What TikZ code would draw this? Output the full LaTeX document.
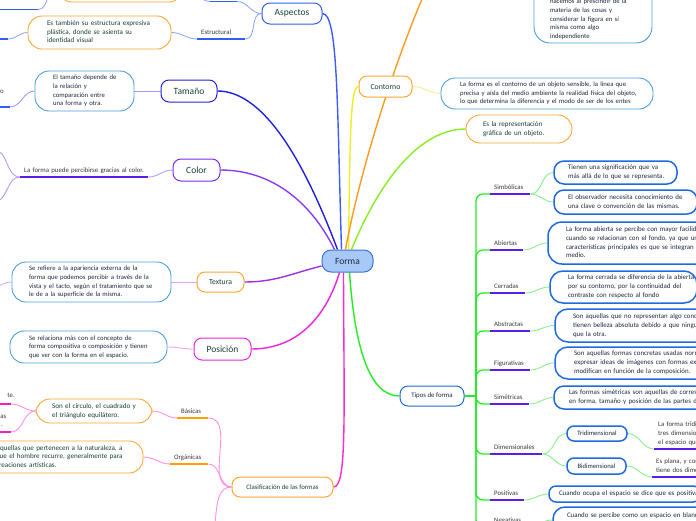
\documentclass[tikz,border=0pt]{standalone}
\usepackage{fontspec}
\setmainfont{Carlito}
\definecolor{tgreen}{HTML}{1B4332}
\definecolor{navy}{HTML}{1E2A40}
\definecolor{lgrey}{HTML}{383838}
\definecolor{orng}{HTML}{FFA630}
\definecolor{skyb}{HTML}{4A9EDB}
\definecolor{tblue}{HTML}{1F6AE0}
\definecolor{fblue}{HTML}{A8C9F7}
\definecolor{fbord}{HTML}{3D72D9}
\definecolor{aspb}{HTML}{2F5FF0}
\definecolor{tamb}{HTML}{2424D8}
\definecolor{colb}{HTML}{7A2EF0}
\definecolor{posb}{HTML}{E826E0}
\definecolor{ulp}{HTML}{5A1FE6}
\definecolor{ulb}{HTML}{2F5FF0}
\definecolor{ulm}{HTML}{F020C8}
\definecolor{ulo}{HTML}{FFA000}
\definecolor{casp}{HTML}{3D5CFF}
\definecolor{sasp}{HTML}{93A8FF}
\definecolor{ctam}{HTML}{2020E0}
\definecolor{stam}{HTML}{A59BF5}
\definecolor{ccol}{HTML}{8A3CF2}
\definecolor{scol}{HTML}{B89AF7}
\definecolor{ctex}{HTML}{A030E0}
\definecolor{stex}{HTML}{E3A6F2}
\definecolor{cpos}{HTML}{EE22DD}
\definecolor{spos}{HTML}{F2A2EE}
\definecolor{ccla}{HTML}{FF2AD4}
\definecolor{scla}{HTML}{FF90E0}
\definecolor{ctip}{HTML}{22EE22}
\definecolor{stip}{HTML}{8AF08A}
\definecolor{crep}{HTML}{88EE22}
\definecolor{ccon}{HTML}{EEEE22}
\definecolor{scon}{HTML}{F5F08A}
\definecolor{ctop}{HTML}{FF9A1F}
\pgfdeclarelayer{bg}
\pgfsetlayers{bg,main}
\newcommand{\tnode}[7]{%
 \pgfmathsetmacro\mywd{#5-#3}\pgfmathsetmacro\myht{#6-#4}%
 \node[title,#1,minimum width=\mywd pt,minimum height=\myht pt] (#2) at ({(#3+#5)/2},{(#4+#6)/2}) {#7};}
\newcommand{\bnode}[8]{%
 \pgfmathsetmacro\mywd{#5-#3}\pgfmathsetmacro\myht{#6-#4}\pgfmathsetmacro\mytw{#5-#3-2*#7}%
 \node[tbox,#1,minimum width=\mywd pt,minimum height=\myht pt,text width=\mytw pt,inner xsep=#7pt] (#2) at ({(#3+#5)/2},{(#4+#6)/2}) {\begin{tabular}{@{}l@{}}#8\end{tabular}};}
\newcommand{\ulab}[7]{%
 \pgfmathsetmacro\mytw{#4-#3-8}%
 \node[lbl,#1,text width=\mytw pt] (#2) at (#3,#5) {\begin{tabular}{@{}l@{}}#7\end{tabular}};
 \draw[#6,line width=1.6pt] (#2.south west) -- (#2.south east);}
\begin{document}
\begin{tikzpicture}[x=1pt,y=-1pt,
 title/.style={draw, rounded corners=8pt, line width=1pt, fill=white, text=tgreen, font=\fontsize{9.5}{11}\selectfont, inner sep=0pt},
 tbox/.style={draw=skyb, rounded corners=14pt, line width=0.9pt, fill=white, text=navy, font=\fontsize{6.7}{8.7}\selectfont, inner ysep=0pt, align=left},
 obox/.style={draw=orng, text=tgreen, font=\fontsize{7.1}{8.6}\selectfont},
 tbx/.style={draw=tblue, line width=1.5pt, rounded corners=10pt, font=\fontsize{6.9}{8.8}\selectfont},
 lbl/.style={text=lgrey, font=\fontsize{6.8}{8}\selectfont, inner ysep=2pt, inner xsep=4pt, anchor=south west, align=left},
 con/.style={line width=0.9pt},
 mainc/.style={line width=1.4pt}]
\useasboundingbox (0,0) rectangle (696,520);
% ---- central and title nodes
\tnode{draw=fbord, fill=fblue, text=navy, rounded corners=9pt}{F}{322}{250}{373}{272}{Forma}
\tnode{draw=aspb}{asp}{262}{3}{322}{24}{Aspectos}
\tnode{draw=tamb}{tam}{161}{80}{217}{102}{Tamaño}
\tnode{draw=colb}{col}{173}{159}{220}{181}{Color}
\tnode{draw=orng, font=\fontsize{7.7}{9}\selectfont}{tex}{197}{272}{244}{292}{Textura}
\tnode{draw=posb}{pos}{194}{338}{251}{360}{Posición}
\tnode{draw=orng, font=\fontsize{6.8}{8}\selectfont}{cla}{232}{477}{333}{497}{Clasificación de las formas}
\tnode{draw=orng, font=\fontsize{7.8}{9}\selectfont}{cont}{359}{76}{412}{97}{Contorno}
\tnode{draw=tblue, text=navy, font=\fontsize{6.8}{8}\selectfont}{tip}{400}{386}{464}{406}{Tipos de forma}
\tnode{draw=tblue, line width=1.5pt, text=navy, font=\fontsize{6.6}{8}\selectfont, rounded corners=7pt}{tri}{567}{426}{627}{441}{Tridimensional}
\tnode{draw=tblue, line width=1.5pt, text=navy, font=\fontsize{6.6}{8}\selectfont, rounded corners=7pt}{bi}{567}{458}{626}{474}{Bidimensional}
% ---- text boxes
\bnode{obox}{ob1}{58}{-30}{183}{2}{10}{}
\bnode{obox}{estB}{28}{16}{171}{49}{19}{Es también su estructura expresiva\\plástica, donde se asienta su\\identidad visual}
\bnode{}{tamB}{35}{71}{134}{111}{18}{El tamaño depende de\\la relación y\\comparación entre\\una forma y otra.}
\bnode{}{texB}{12}{262}{171}{302}{17}{Se refiere a la apariencia externa de la\\forma que podemos percibir a través de la\\vista y el tacto, según el tratamiento que se\\le de a la superficie de la misma.}
\bnode{}{posB}{10}{331}{167}{363}{19}{Se relaciona más con el concepto de\\forma compositiva o composición y tienen\\que ver con la forma en el espacio.}
\bnode{obox}{basB}{36}{399}{152}{423}{16}{Son el círculo, el cuadrado y\\el triángulo equilátero.}
\bnode{obox}{orgB}{-30}{441}{143}{473}{26}{Aquellas que pertenecen a la naturaleza, a\\que el hombre recurre, generalmente para\\creaciones artísticas.}
\bnode{rounded corners=16pt}{trB}{534}{-30}{652}{43}{16}{\mbox{}\\\mbox{}\\\mbox{}\\hacemos al prescindir de la\\materia de las cosas y\\considerar la figura en sí\\misma como algo\\independiente}
\bnode{}{contB}{441}{78}{653}{109}{19}{La forma es el contorno de un objeto sensible, la línea que\\precisa y aísla del medio ambiente la realidad física del objeto,\\lo que determina la diferencia y el modo de ser de los entes}
\bnode{obox}{repB}{466}{115}{572}{143}{17}{Es la representación\\gráfica de un objeto.}
\bnode{tbx}{sb1}{554}{161}{677}{184}{14}{Tienen una significación que va\\más allá de lo que se representa.}
\bnode{tbx}{sb2}{554}{190}{697}{214}{14}{El observador necesita conocimiento de\\una clave o convención de las mismas.}
\bnode{tbx, rounded corners=14pt}{abB}{548}{222}{750}{264}{18}{La forma abierta se percibe con mayor facilidad\\cuando se relacionan con el fondo, ya que una de sus\\características principales es que se integran al\\medio.}
\bnode{tbx, rounded corners=13pt}{ceB}{550}{271}{697}{303}{18}{La forma cerrada se diferencia de la abierta\\por su contorno, por la continuidad del\\contraste con respecto al fondo}
\bnode{tbx, rounded corners=13pt}{asB}{555}{309}{760}{342}{18}{Son aquellas que no representan algo concreto y\\tienen belleza absoluta debido a que ninguna es más\\que la otra.}
\bnode{tbx, rounded corners=13pt}{fiB}{555}{347}{760}{379}{19}{Son aquellas formas concretas usadas normalmente para\\expresar ideas de imágenes con formas exactas que se\\modifican en función de la composición.}
\bnode{tbx}{siB}{554}{386}{760}{409}{15}{Las formas simétricas son aquellas de correspondencia\\en forma, tamaño y posición de las partes de un todo.}
\bnode{tbx, rounded corners=7pt}{poB}{549}{486}{700}{502}{10}{Cuando ocupa el espacio se dice que es positiva.}
\bnode{tbx, rounded corners=12pt}{neB}{553}{507}{760}{533}{14}{Cuando se percibe como un espacio en blanco\\se dice que es negativa.}
% ---- underlined labels
\ulab{}{est}{197}{245}{39}{ulb}{Estructural}
\ulab{}{colL}{20}{148}{177}{ulp}{La forma puede percibirse gracias al color.}
\ulab{}{bas}{177}{208}{418}{ulo}{Básicas}
\ulab{}{org}{170}{208}{464}{ulo}{Orgánicas}
\ulab{}{sim}{490}{530}{194}{ulp}{Simbólicas}
\ulab{}{abi}{490}{523}{250}{ulp}{Abiertas}
\ulab{}{cer}{490}{525}{293}{ulp}{Cerradas}
\ulab{}{abs}{490}{530}{331}{ulp}{Abstractas}
\ulab{}{fig}{490}{530}{370}{ulp}{Figurativas}
\ulab{}{sime}{490}{529}{404}{ulp}{Simétricas}
\ulab{}{dim}{490}{542}{454}{ulp}{Dimensionales}
\ulab{}{posi}{490}{524}{500}{ulp}{Positivas}
\ulab{}{neg}{490}{527}{527}{ulp}{Negativas}
\ulab{font=\fontsize{6.8}{9}\selectfont}{triL}{654}{780}{449}{ulp}{La forma tridimensional es aquella que\\tres dimensiones: alto, ancho y\\el espacio que ocupa.}
\ulab{font=\fontsize{6.8}{9}\selectfont}{biL}{652}{780}{477}{ulp}{Es plana, y con dos medidas;\\tiene dos dimensiones.}
% ---- partial items at the edges
\coordinate (asp1w) at (210,1.5); \coordinate (asp1e) at (237,1.5);
\draw[ulb, line width=1.6pt] (asp1w) -- (asp1e);
\coordinate (t2w) at (-40,9.5); \coordinate (t2e) at (38,9.5);
\draw[ulb, line width=1.6pt] (t2w) -- (t2e);
\coordinate (e2w) at (-40,39); \coordinate (e2e) at (8,39);
\draw[ulb, line width=1.6pt] (e2w) -- (e2e);
\coordinate (tmw) at (-40,107); \coordinate (tme) at (10,107);
\draw[ulb, line width=1.6pt] (tmw) -- (tme);
\node[text=lgrey, font=\fontsize{6.8}{8}\selectfont, anchor=base east, inner sep=0pt] (tmo) at (4,93) {o};
\coordinate (b1w) at (-40,404); \coordinate (b1e) at (11,404);
\draw[ulm, line width=1.6pt] (b1w) -- (b1e);
\coordinate (b2w) at (-40,432); \coordinate (b2e) at (11,432);
\draw[ulm, line width=1.6pt] (b2w) -- (b2e);
\node[text=lgrey, font=\fontsize{6.8}{8}\selectfont, anchor=base east, inner sep=0pt] (b1t) at (15,397.5) {te.};
\node[text=lgrey, font=\fontsize{6.8}{8}\selectfont, anchor=base east, inner sep=0pt] (b2t) at (6.5,418.5) {ias};
\node[text=lgrey, font=\fontsize{6.8}{8}\selectfont, anchor=base east, inner sep=0pt] (b3t) at (3,426) {.};
\coordinate (cl1) at (-6,150); \coordinate (cl2) at (-6,202);
\coordinate (txe) at (-12,289);
\coordinate (cla3) at (200,545);
\coordinate (topend) at (428,-15);
\coordinate (trk) at (476,396);
% ---- connectors
\begin{pgfonlayer}{bg}
\draw[mainc, casp] ([xshift=-6pt]F.north) .. controls (337,100) and (338,14) .. (asp.east);
\draw[mainc, ctam] ([xshift=-10pt]F.north) .. controls (300,150) and (260,91) .. (tam.east);
\draw[mainc, ccol] ([xshift=-13pt]F.north) .. controls (310,200) and (270,170) .. (col.east);
\draw[mainc, ctex] ([yshift=-5pt]F.west) .. controls (290,274) and (275,282) .. (tex.east);
\draw[mainc, cpos] ([xshift=-8pt]F.south) .. controls (325,320) and (295,349) .. (pos.east);
\draw[mainc, ccla] ([xshift=-4pt]F.south) .. controls (344,420) and (347,487) .. (cla.east);
\draw[mainc, ctip] ([xshift=2pt]F.south) .. controls (355,350) and (370,396) .. (tip.west);
\draw[mainc, crep] ([xshift=4pt]F.north) .. controls (380,180) and (420,129) .. (repB.west);
\draw[mainc, ccon] ([xshift=1pt]F.north) .. controls (350,140) and (350,86) .. (cont.west);
\draw[mainc, ctop] ([xshift=-2pt]F.north) .. controls (360,170) and (395,60) .. (topend);
% Aspectos
\draw[con, sasp] (asp.west) to[out=180,in=0] (est.south east);
\draw[con, sasp] (asp.west) to[out=180,in=0] (asp1e);
\draw[con, sasp] (est.south west) to[out=180,in=0] (estB.east);
\draw[con, sasp] (asp1w) to[out=180,in=0] (ob1.east);
\draw[con, sasp] (ob1.west) to[out=180,in=0] (t2e);
\draw[con, sasp] (estB.west) to[out=180,in=0] (e2e);
% Tamano
\draw[con, stam] (tam.west) -- (tamB.east);
\draw[con, stam] (tamB.west) to[out=180,in=0] (tme);
% Color
\draw[con, scol] (col.west) to[out=180,in=0] (colL.south east);
\draw[con, scol] (colL.south west) to[out=180,in=0] (cl1);
\draw[con, scol] (colL.south west) to[out=180,in=0] (cl2);
% Textura, Posicion
\draw[con, stex] (tex.west) -- (texB.east);
\draw[con, stex] (texB.west) to[out=180,in=0] (txe);
\draw[con, spos] (pos.west) to[out=180,in=0] (posB.east);
% Clasificacion
\draw[con, scla] (cla.west) to[out=180,in=0] (bas.south east);
\draw[con, scla] (cla.west) to[out=180,in=0] (org.south east);
\draw[con, scla] (cla.west) to[out=180,in=0] (cla3);
\draw[con, scla] (bas.south west) to[out=180,in=0] (basB.east);
\draw[con, scla] (org.south west) to[out=180,in=0] (orgB.east);
\draw[con, scla] (basB.west) to[out=180,in=0] (b1e);
\draw[con, scla] (basB.west) to[out=180,in=0] (b2e);
% Contorno
\draw[con, scon] (cont.east) to[out=0,in=180] (contB.west);
% Tipos
\draw[line width=2.4pt, ctip] (tip.east) -- (trk);
\foreach \c in {sim,abi,cer,abs,fig,sime,dim,posi,neg}
  \draw[line width=1.3pt, ctip, rounded corners=7pt] (trk) -- (trk |- \c.south west) -- (\c.south west);
\draw[con, stip] (sim.south east) to[out=0,in=180] (sb1.west);
\draw[con, stip] (sim.south east) to[out=0,in=180] (sb2.west);
\draw[con, stip] (abi.south east) to[out=0,in=180] (abB.west);
\draw[con, stip] (cer.south east) to[out=0,in=180] (ceB.west);
\draw[con, stip] (abs.south east) to[out=0,in=180] (asB.west);
\draw[con, stip] (fig.south east) to[out=0,in=180] (fiB.west);
\draw[con, stip] (sime.south east) to[out=0,in=180] (siB.west);
\draw[con, stip] (dim.south east) to[out=0,in=180] (tri.west);
\draw[con, stip] (dim.south east) to[out=0,in=180] (bi.west);
\draw[con, stip] (tri.east) to[out=0,in=180] (triL.south west);
\draw[con, stip] (bi.east) to[out=0,in=180] (biL.south west);
\draw[con, stip] (posi.south east) to[out=0,in=180] (poB.west);
\draw[con, stip] (neg.south east) to[out=0,in=180] (neB.west);
\end{pgfonlayer}
\end{tikzpicture}
\end{document}
